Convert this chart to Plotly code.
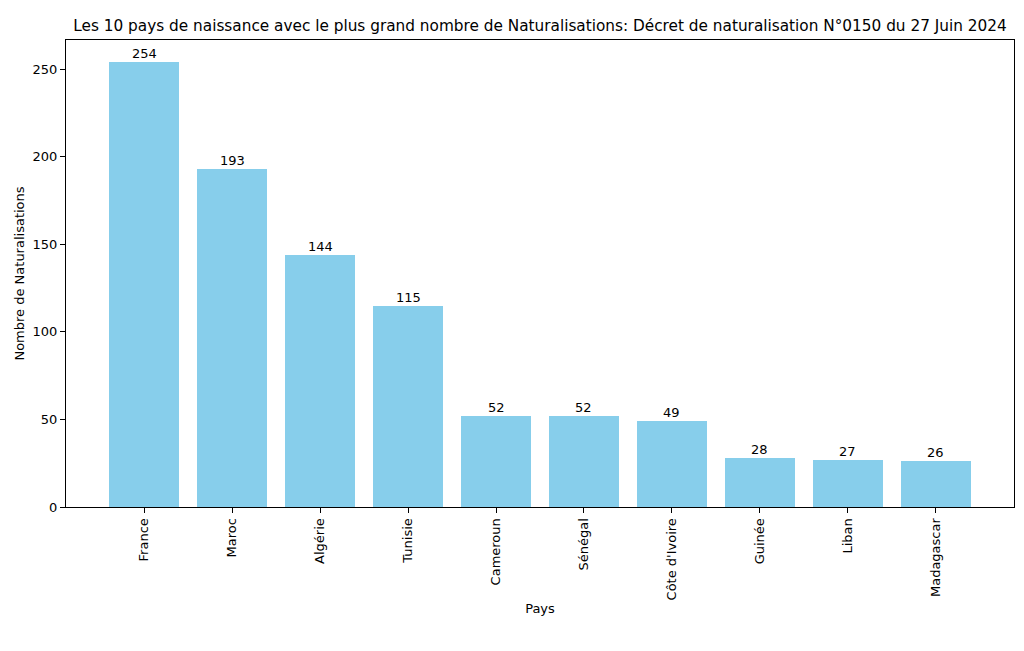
import plotly.graph_objects as go

pays = ["France", "Maroc", "Algérie", "Tunisie", "Cameroun", "Sénégal",
        "Côte d'Ivoire", "Guinée", "Liban", "Madagascar"]
valeurs = [254, 193, 144, 115, 52, 52, 49, 28, 27, 26]
titre = "Les 10 pays de naissance avec le plus grand nombre de Naturalisations: Décret de naturalisation N°0150 du 27 Juin 2024"

fig = go.Figure()
fig.add_trace(go.Bar(
    x=list(range(len(pays))), y=valeurs, width=0.8,
    marker=dict(color="#87CEEB", line=dict(width=0)),
))
for i, v in enumerate(valeurs):
    fig.add_annotation(x=i, y=v, text=str(v), showarrow=False, yanchor="bottom",
                       yshift=-1, font=dict(family="DejaVu Sans", size=13, color="black"))

font = dict(family="DejaVu Sans", size=13, color="black")
fig.update_layout(
    width=1024, height=651,
    margin=dict(l=66, r=10, t=40, b=144),
    plot_bgcolor="white", paper_bgcolor="white",
    font=font, showlegend=False, bargap=0,
    title=dict(text=titre, xref="paper", x=0.5, xanchor="center", y=1 - 26/651, yanchor="middle",
               font=dict(family="DejaVu Sans", size=15.3, color="black")),
)
fig.update_xaxes(
    range=[-0.89, 9.89], tickmode="array", tickvals=list(range(len(pays))), ticktext=pays,
    tickangle=-90, ticks="outside", ticklen=5, tickcolor="black",
    showline=True, linecolor="black", linewidth=1, mirror=True, showgrid=False, zeroline=False,
    title=dict(text="Pays", font=font, standoff=4),
)
fig.update_yaxes(
    range=[0, 266.7], tickvals=[0, 50, 100, 150, 200, 250], ticks="outside", ticklen=5, tickcolor="black",
    showline=True, linecolor="black", linewidth=1, mirror=True, showgrid=False, zeroline=False,
    title=dict(text="Nombre de Naturalisations", font=font, standoff=5),
)
fig.write_html("out.html")
